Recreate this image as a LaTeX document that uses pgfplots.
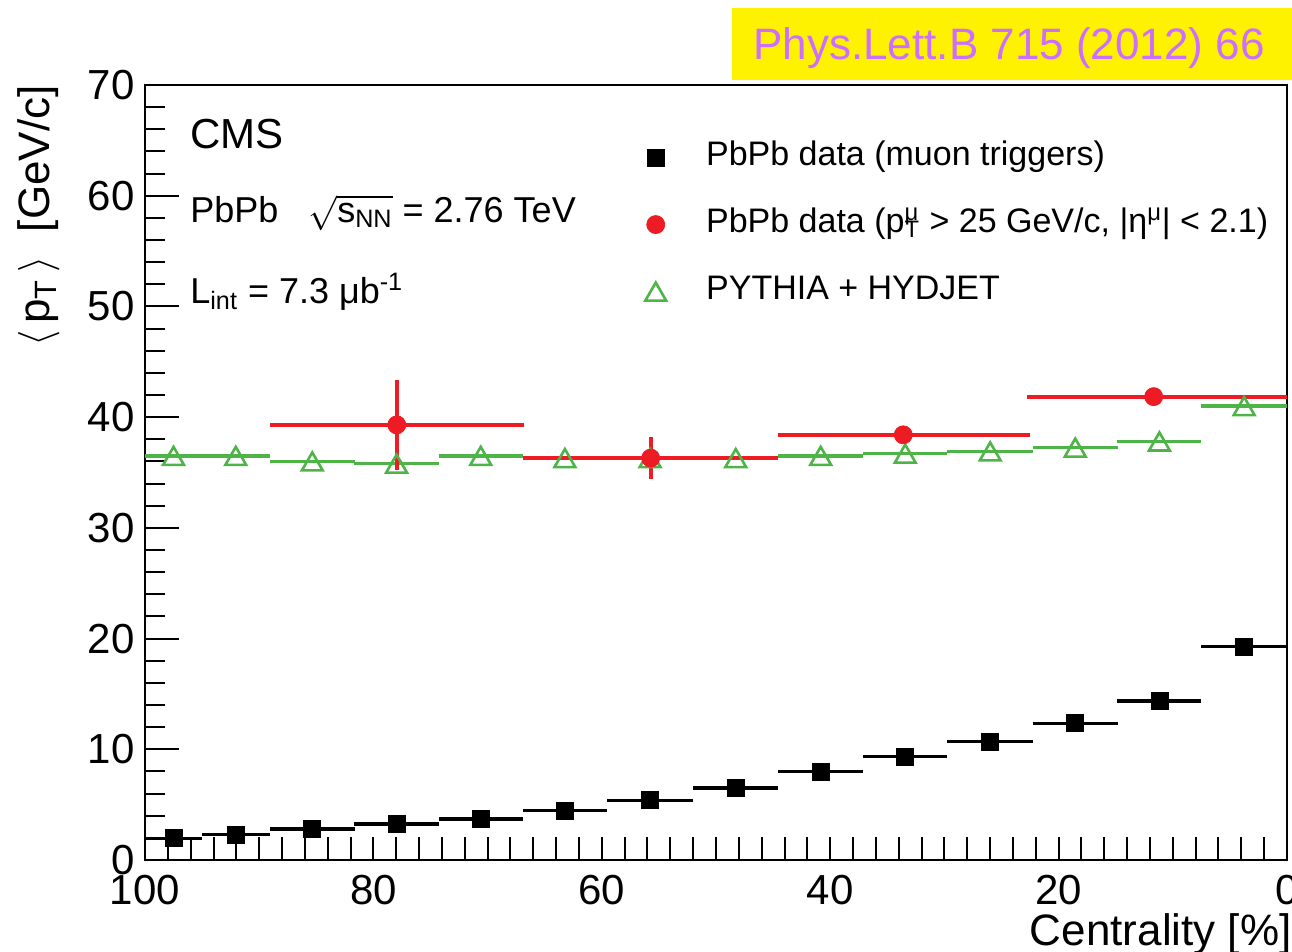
\documentclass[border=0pt]{standalone}
\usepackage{pgfplots}
\pgfplotsset{compat=1.18}
\usepackage{pgfplotstable}
\usepackage{amsmath}
\usepackage{fontspec}
\setmainfont{Liberation Sans}
\definecolor{cmsred}{RGB}{237,28,36}
\definecolor{cmsgreen}{RGB}{78,180,72}
\definecolor{refviolet}{RGB}{204,110,255}

% PbPb data (muon triggers): bin centre, <pT>, half bin width
\pgfplotstableread{
x y ex
97.50 1.95 2.50
92.05 2.30 3.00
85.35 2.80 3.70
77.97 3.25 3.69
70.60 3.70 3.69
63.23 4.45 3.69
55.77 5.40 3.77
48.27 6.50 3.73
40.83 8.00 3.70
33.43 9.35 3.70
25.99 10.70 3.75
18.54 12.35 3.70
11.17 14.35 3.68
3.75 19.25 3.75
}\muondata

% PYTHIA + HYDJET
\pgfplotstableread{
x y ex
97.50 36.5 2.50
92.05 36.5 3.00
85.35 36.0 3.70
77.97 35.8 3.69
70.60 36.5 3.69
63.23 36.3 3.69
55.77 36.3 3.77
48.27 36.3 3.73
40.83 36.5 3.70
33.43 36.7 3.70
25.99 36.9 3.75
18.54 37.25 3.70
11.17 37.8 3.68
3.75 41.0 3.75
}\simdata

% PbPb data (pT > 25 GeV/c, |eta| < 2.1)
\pgfplotstableread{
x y xp xm ey
77.95 39.30 11.10 11.10 4.05
55.72 36.30 11.19 11.19 1.90
33.60 38.40 10.93 11.10 0.50
11.67 41.85 11.13 11.67 0.50
}\wdata

\begin{document}
\begin{tikzpicture}
\begin{axis}[
  name=ax,
  scale only axis, width=571pt, height=387.5pt,
  x dir=reverse, xmin=0, xmax=100, ymin=0, ymax=70,
  xtick={0,20,...,100}, minor x tick num=9,
  ytick={0,10,...,70}, minor y tick num=4,
  tick align=inside, tick pos=left,
  major tick length=17pt, minor tick length=10pt,
  xtick style={/pgfplots/major tick length=11.5pt, /pgfplots/minor tick length=11.5pt},
  tick style={line width=1pt, black},
  axis line style={line width=1.2pt},
  /pgf/number format/assume math mode=true,
  ticklabel style={font=\fontsize{21}{25}\selectfont},
  xticklabel style={inner sep=0pt, yshift=-7.5pt},
  yticklabel style={inner sep=0pt, xshift=-5pt},
  xlabel={Centrality [\%]},
  xlabel style={font=\fontsize{22}{26}\selectfont, at={(axis description cs:1.0044,-0.0684)}, anchor=north east, inner sep=0pt},
  ylabel={$\langle\,$p\textsubscript{T}$\,\rangle$\ \ [GeV/c]},
  ylabel style={font=\fontsize{22}{26}\selectfont, at={(axis description cs:-0.0744,1)}, anchor=south east, inner sep=0pt},
  legend style={font=\fontsize{17}{20}\selectfont, draw=none, fill=none,
    at={(axis description cs:0.4378,0.9275)}, anchor=north west,
    inner sep=0pt, column sep=20pt, row sep=17.5pt,
    nodes={inner sep=0pt, text height=12pt, text depth=4pt}},
  legend cell align=left,
]
% simulation (drawn first, below the data)
\addplot[forget plot, only marks, mark=triangle, mark size=6pt,
  mark options={draw=cmsgreen, fill=white, line width=1.3pt, yshift=-1.5pt},
  error bars/.cd, x dir=both, x explicit, error mark=none,
  error bar style={line width=1.7pt, cmsgreen}]
  table[x=x, y=y, x error=ex] {\simdata};

% muon triggered data
\addplot[only marks, mark=square*, mark size=4.25pt,
  mark options={draw=black, fill=black},
  error bars/.cd, x dir=both, x explicit, error mark=none,
  error bar style={line width=1.6pt, black}]
  table[x=x, y=y, x error=ex] {\muondata};
\addlegendentry{PbPb data (muon triggers)}

% high-pT muon data
\addplot[only marks, mark=*, mark size=4.5pt,
  mark options={draw=cmsred, fill=cmsred},
  error bars/.cd, x dir=both, x explicit, y dir=both, y explicit, error mark=none,
  error bar style={line width=2pt, cmsred}]
  table[x=x, y=y, x error plus=xp, x error minus=xm, y error=ey] {\wdata};
\addlegendentry{PbPb data (p\rlap{\textsuperscript{μ}}\textsubscript{T} > 25 GeV/c, |η\textsuperscript{μ}| < 2.1)}

\addlegendimage{only marks, mark=triangle, mark size=6pt,
  mark options={draw=cmsgreen, fill=white, line width=1.3pt, yshift=-1.5pt}}
\addlegendentry{PYTHIA + HYDJET}

\node[anchor=base west, inner sep=0pt, font=\fontsize{21}{25}\selectfont] at (axis cs:96.06,64.3) {CMS};
\node[anchor=base west, inner sep=0pt, font=\fontsize{18}{22}\selectfont] at (axis cs:96.06,57.6) {PbPb\ \ \ $\sqrt{\text{s}_{\text{NN}}}$ = 2.76 TeV};
\node[anchor=base west, inner sep=0pt, font=\fontsize{18}{22}\selectfont] at (axis cs:96.06,50.3) {L\textsubscript{int} = 7.3 μb\textsuperscript{-1}};
\end{axis}
\fill[yellow] ([xshift=293.5pt,yshift=2.5pt]ax.north west) rectangle ([xshift=10pt,yshift=38.5pt]ax.north east);
\node[anchor=base west, inner sep=0pt, text=refviolet, font=\fontsize{22}{26}\selectfont] at ([xshift=304pt,yshift=12.5pt]ax.north west) {Phys.Lett.B 715 (2012) 66};
\pgfresetboundingbox
\path ([xshift=-72.5pt,yshift=-46pt]ax.south west) rectangle ([xshift=2.5pt,yshift=42.5pt]ax.north east);
\end{tikzpicture}
\end{document}
